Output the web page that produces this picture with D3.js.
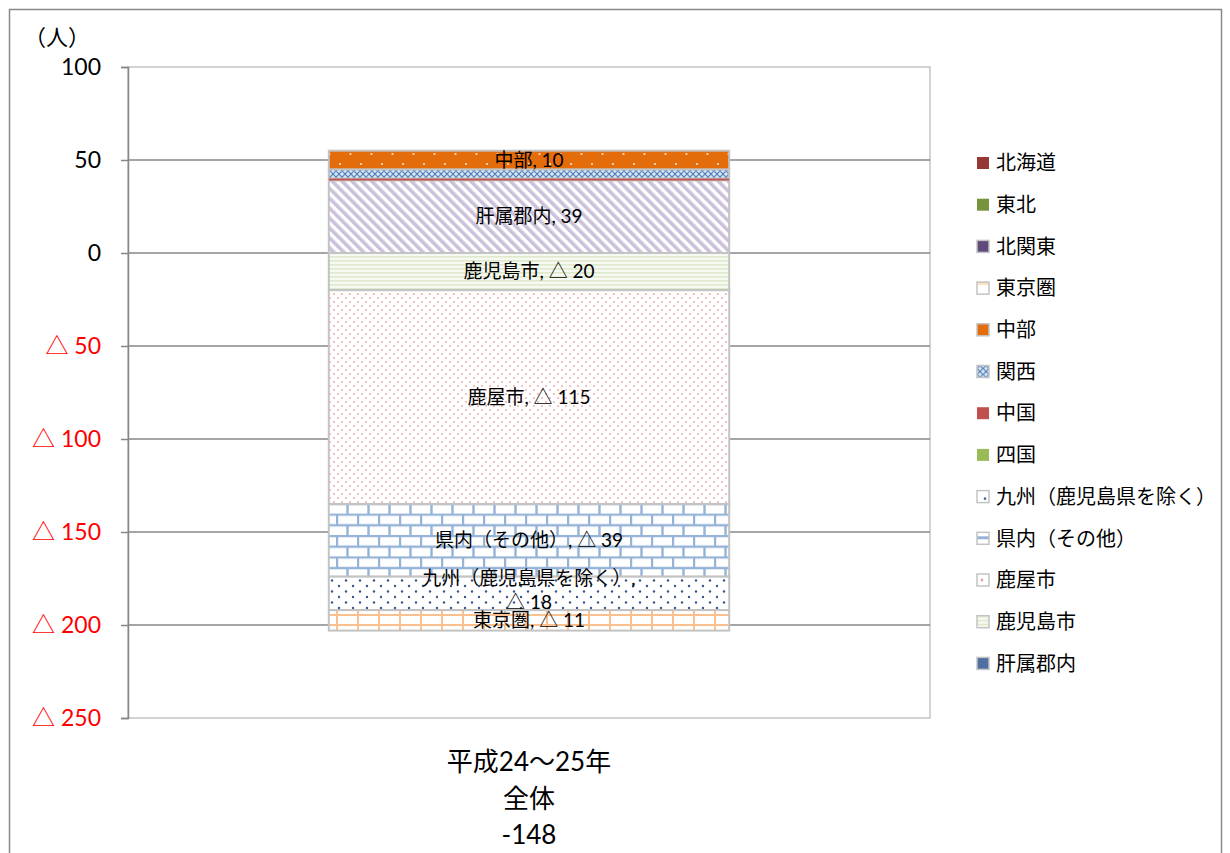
<!DOCTYPE html>
<html>
<head>
<meta charset="utf-8">
<script src="https://cdn.jsdelivr.net/npm/d3@7/dist/d3.min.js"></script>
<style>
  body { margin: 0; background: #fff; }
  text { font-family: Lato, "Noto Sans CJK JP", "Noto Sans", sans-serif; }
</style>
</head>
<body>
<div id="chart"></div>
<script>
// categories (one stacked column) and its label lines
var categories = ["平成24〜25年 全体"];
var categoryLines = ["平成24〜25年", "全体", "-148"];

// series in stacking order (first = closest to zero)
var seriesNames = ["肝属郡内", "鹿児島市", "鹿屋市", "県内（その他）", "九州（鹿児島県を除く）",
    "四国", "中国", "関西", "中部", "東京圏", "北関東", "東北", "北海道"];
var seriesValues = [39, -20, -115, -39, -18, 0, 1, 5, 10, -11, 0, 0, 0];

// y axis ticks
var yTicks = [100, 50, 0, -50, -100, -150, -200, -250];

// styles per series (same order as seriesNames)
var barFill = ["url(#pKimo)", "url(#pKago)", "url(#pKanoya)", "url(#pKennai)", "url(#pKyushu)",
    "#9bbb59", "#c0504d", "url(#pKansai)", "url(#pChubu)", "url(#pTokyo)", "#604a7b", "#77933c", "#953735"];
var legendFill = ["#4f6fa3", "url(#pKago)", "url(#pKanoyaL)", "url(#pKennaiL)", "url(#pKyushuL)",
    "#9bbb59", "#c0504d", "url(#pKansai)", "#e46c0a", "url(#pTokyoL)", "#604a7b", "#77933c", "#953735"];
var legendStroke = [true, true, true, true, true, false, false, true, true, true, true, false, false];

var margin = {top: 67, left: 128, right: 300, bottom: 135};
var W = 1230, H = 853;

var svg = d3.select("#chart").append("svg")
    .attr("width", W)
    .attr("height", H);

// ---- patterns
var defs = svg.append("defs");
function pattern(id, w, h, bg, tf) {
    var p = defs.append("pattern")
        .attr("id", id)
        .attr("patternUnits", "userSpaceOnUse")
        .attr("width", w).attr("height", h);
    if (tf) p.attr("patternTransform", tf);
    p.append("rect").attr("width", w).attr("height", h).attr("fill", bg);
    return p;
}
var p;
p = pattern("pKimo", 7, 7, "#ffffff", "rotate(-45)");
p.append("rect").attr("width", 3.6).attr("height", 7).attr("fill", "#ccc1da");

p = pattern("pKago", 4, 4, "#f7faf2");
p.append("rect").attr("y", 0).attr("width", 4).attr("height", 1.6).attr("fill", "#dfe9cc");

p = pattern("pKanoya", 8, 8, "#ffffff");
p.append("circle").attr("cx", 2).attr("cy", 2).attr("r", 1.1).attr("fill", "#f3b2b2");
p.append("circle").attr("cx", 6).attr("cy", 6).attr("r", 1.1).attr("fill", "#f3b2b2");
p = pattern("pKanoyaL", 12, 12, "#ffffff");
p.append("circle").attr("cx", 5).attr("cy", 6).attr("r", 1.4).attr("fill", "#f3a0a0");

p = pattern("pKennai", 21, 21.4, "#ffffff");
p.append("path")
    .attr("d", "M0,1 H21 M0,11.7 H21 M1,1 V11.7 M11.5,11.7 V21.4")
    .attr("stroke", "#95b3d7").attr("stroke-width", 2.4).attr("fill", "none");
p = pattern("pKennaiL", 12, 12, "#ffffff");
p.append("rect").attr("y", 4).attr("width", 12).attr("height", 3).attr("fill", "#95b3d7");

p = pattern("pKyushu", 14, 11, "#ffffff");
p.append("circle").attr("cx", 3).attr("cy", 3).attr("r", 1.2).attr("fill", "#36598a");
p.append("circle").attr("cx", 10).attr("cy", 8.5).attr("r", 1.2).attr("fill", "#36598a");
p = pattern("pKyushuL", 12, 12, "#ffffff");
p.append("circle").attr("cx", 8).attr("cy", 8).attr("r", 1.3).attr("fill", "#36598a");

p = pattern("pKansai", 6, 6, "#dce6f2");
p.append("path").attr("d", "M0,3 L3,0 L6,3 L3,6 Z")
    .attr("stroke", "#4f81bd").attr("stroke-width", 1.1).attr("fill", "none");

p = pattern("pChubu", 21, 20, "#e46c0a");
p.append("circle").attr("cx", 4).attr("cy", 4).attr("r", 1.1).attr("fill", "#fbe0c8");
p.append("circle").attr("cx", 14.5).attr("cy", 14).attr("r", 1.1).attr("fill", "#fbe0c8");

p = pattern("pTokyo", 21, 10, "#ffffff");
p.append("path").attr("d", "M1,0 V10 M0,5 H21")
    .attr("stroke", "#fac090").attr("stroke-width", 2).attr("fill", "none");
p = pattern("pTokyoL", 12, 12, "#ffffff");
p.append("rect").attr("width", 12).attr("height", 3).attr("fill", "#fde0c4");

// ---- outer chart border
svg.append("rect")
    .attr("x", 9.5).attr("y", 9.5)
    .attr("width", 1212).attr("height", 900)
    .attr("fill", "none").attr("stroke", "#898989").attr("stroke-width", 1.5);

// ---- scales
var x = d3.scaleBand()
    .domain(categories)
    .range([margin.left, W - margin.right])
    .padding(0.334);

var y = d3.scaleLinear()
    .domain([-250, 100])
    .range([H - margin.bottom, margin.top]);

// ---- plot frame + gridlines
var x0 = margin.left, x1 = W - margin.right;
svg.append("rect")
    .attr("x", x0).attr("y", y(100))
    .attr("width", x1 - x0).attr("height", y(-250) - y(100))
    .attr("fill", "none").attr("stroke", "#c4c4c4").attr("stroke-width", 1.5);

svg.append("g").selectAll("line")
    .data(yTicks.filter(function (t) { return t !== 100 && t !== -250; }))
    .enter().append("line")
    .attr("x1", x0).attr("x2", x1)
    .attr("y1", function (d) { return y(d); })
    .attr("y2", function (d) { return y(d); })
    .attr("stroke", "#878787").attr("stroke-width", 1.5);

// ---- stacked data
var row = {category: categories[0]};
seriesNames.forEach(function (n, i) { row[n] = seriesValues[i]; });
var stacked = d3.stack()
    .keys(seriesNames)
    .offset(d3.stackOffsetDiverging)([row]);

var segs = [];
stacked.forEach(function (s, i) {
    s.forEach(function (d) {
        if (seriesValues[i] !== 0) segs.push({i: i, d0: d[0], d1: d[1], cat: d.data.category});
    });
});
// solid thin segments on top so the borders of neighbours don't hide them
segs.sort(function (a, b) {
    return (legendStroke[a.i] ? 0 : 1) - (legendStroke[b.i] ? 0 : 1);
});

svg.append("g").selectAll("rect")
    .data(segs)
    .enter().append("rect")
    .attr("x", function (d) { return x(d.cat); })
    .attr("y", function (d) { return y(d.d1); })
    .attr("width", x.bandwidth())
    .attr("height", function (d) { return y(d.d0) - y(d.d1); })
    .attr("fill", function (d) { return barFill[d.i]; })
    .attr("stroke", function (d) { return legendStroke[d.i] ? "#c3c3c3" : "none"; })
    .attr("stroke-width", 2);

// ---- y axis
function fmt(v) { return v < 0 ? "△ " + (-v) : String(v); }
var yAxis = svg.append("g")
    .attr("transform", "translate(" + x0 + ",0)")
    .call(d3.axisLeft(y).tickValues(yTicks).tickSize(7).tickPadding(20).tickFormat(fmt));
yAxis.select(".domain").attr("stroke", "#878787").attr("stroke-width", 1.5);
yAxis.selectAll(".tick line").attr("stroke", "#878787").attr("stroke-width", 1.5);
yAxis.selectAll(".tick text")
    .style("font-size", "23px")
    .attr("fill", function (d) { return d < 0 ? "#ff0000" : "#000"; });

svg.append("text")
    .attr("x", 24).attr("y", 45)
    .style("font-size", "22px")
    .text("（人）");

// ---- category labels
svg.append("g").selectAll("text")
    .data(categoryLines)
    .enter().append("text")
    .attr("x", x(categories[0]) + x.bandwidth() / 2)
    .attr("y", function (d, i) { return 771 + i * 36.5; })
    .attr("text-anchor", "middle")
    .style("font-size", "26px")
    .text(function (d) { return d; });

// ---- data labels (segments of 10 or more)
var labG = svg.append("g");
stacked.forEach(function (s, i) {
    var v = seriesValues[i];
    if (Math.abs(v) < 10) return;
    s.forEach(function (d) {
        var cx = x(d.data.category) + x.bandwidth() / 2;
        var cy = (y(d[0]) + y(d[1])) / 2;
        var full = seriesNames[i] + ", " + fmt(v);
        var lines = full.length > 16 ? [seriesNames[i] + ", ", fmt(v)] : [full];
        var shift = lines.length > 1 ? -3 : 0;
        lines.forEach(function (t, k) {
            labG.append("text")
                .attr("x", cx)
                .attr("y", cy + shift + (k - (lines.length - 1) / 2) * 24)
                .attr("dy", "0.35em")
                .attr("text-anchor", "middle")
                .style("font-size", "19px")
                .text(t);
        });
    });
});

// ---- legend (reverse of stacking order)
var legendOrder = d3.range(seriesNames.length).reverse();
var lg = svg.append("g").selectAll("g")
    .data(legendOrder)
    .enter().append("g")
    .attr("transform", function (d, k) { return "translate(977," + (157 + k * 41.7) + ")"; });
lg.append("rect")
    .attr("x", 0).attr("y", 0)
    .attr("width", 12).attr("height", 12)
    .attr("fill", function (i) { return legendFill[i]; })
    .attr("stroke", function (i) { return legendStroke[i] ? "#c3c3c3" : "none"; })
    .attr("stroke-width", 1.5);
lg.append("text")
    .attr("x", 19).attr("y", 6).attr("dy", "0.36em")
    .style("font-size", "20px")
    .text(function (i) { return seriesNames[i]; });
</script>
</body>
</html>
